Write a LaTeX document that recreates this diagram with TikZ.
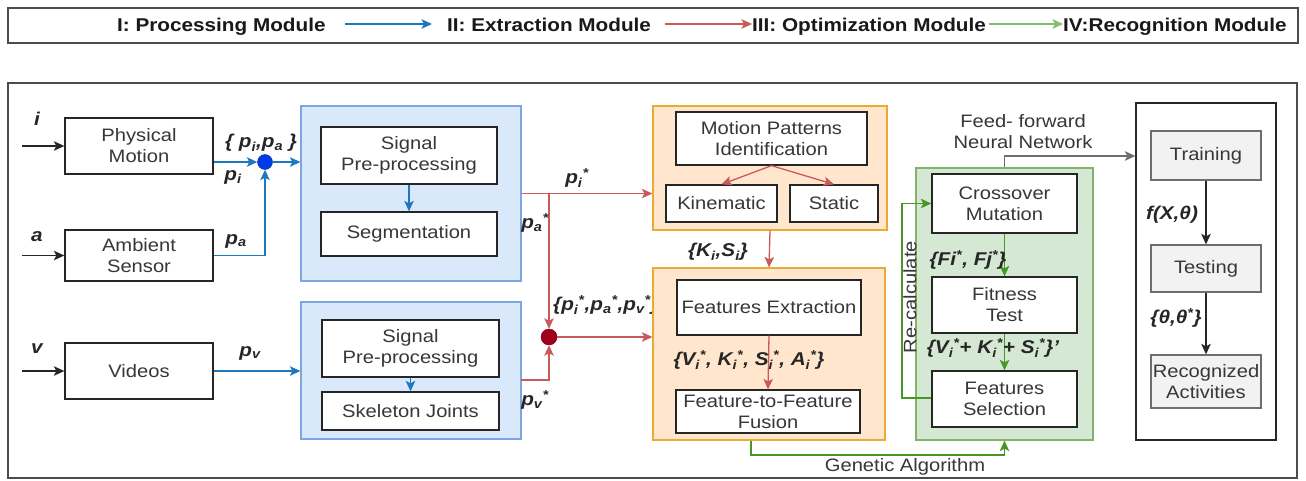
\documentclass[tikz,border=0pt]{standalone}
\usepackage{fontspec}
\setmainfont{Liberation Sans}[FakeStretch=1.12]
\usetikzlibrary{arrows.meta}
\definecolor{txtc}{RGB}{55,55,55}
\definecolor{lblue}{RGB}{30,120,190}
\definecolor{bfill}{RGB}{218,232,252}
\definecolor{bdraw}{RGB}{126,166,224}
\definecolor{ofill}{RGB}{255,230,204}
\definecolor{odraw}{RGB}{232,172,50}
\definecolor{gfill}{RGB}{213,232,212}
\definecolor{gdraw}{RGB}{130,179,102}
\definecolor{lred}{RGB}{200,90,90}
\definecolor{lgreen}{RGB}{70,150,40}
\definecolor{lgreenleg}{RGB}{130,190,110}
\definecolor{grfill}{RGB}{242,242,242}
\definecolor{grdraw}{RGB}{110,110,110}
\definecolor{cblue}{RGB}{0,60,230}
\definecolor{cred}{RGB}{160,0,30}
\tikzset{
  tip/.style={-{Stealth[length=10.5pt,width=9.5pt,inset=2.5pt]}},
  bx/.style={draw=black!85, line width=1.3pt, fill=white, text=txtc, align=center, inner sep=0pt,
    font=\fontsize{18}{21}\selectfont},
  gbx/.style={draw=grdraw, line width=1.3pt, fill=grfill, text=txtc, align=center, inner sep=0pt,
    font=\fontsize{18}{21}\selectfont},
  grpb/.style={draw=bdraw, line width=1.2pt, fill=bfill, inner sep=0pt},
  grpo/.style={draw=odraw, line width=1.2pt, fill=ofill, inner sep=0pt},
  grpg/.style={draw=gdraw, line width=1.2pt, fill=gfill, inner sep=0pt},
  lab/.style={font=\fontsize{18.5}{20}\selectfont\bfseries\itshape, text=black!85, inner sep=0pt},
  plain/.style={font=\fontsize{18}{21}\selectfont, text=txtc, inner sep=0pt, align=center},
  legt/.style={font=\fontsize{18.5}{21}\selectfont\bfseries, text=black!90, inner sep=0pt, anchor=base west},
  bl/.style={draw=lblue, line width=1.3pt},
  rl/.style={draw=lred, line width=1.3pt},
  gl/.style={draw=lgreen, line width=1.3pt},
  kl/.style={draw=black!85, line width=1.3pt},
}
\begin{document}
\begin{tikzpicture}[x=1pt,y=-1pt]
\useasboundingbox (0,0) rectangle (1306,480);
\fill[white] (0,0) rectangle (1306,480);
% legend
\node[draw=black!70, line width=1.5pt, minimum width=1290pt, minimum height=35pt, inner sep=0pt] (leg) at (653,25.5) {};
\node[legt] (l1) at (117,31) {I: Processing Module};
\node[legt] (l2) at (447,31) {II: Extraction Module};
\node[legt] (l3) at (752,31) {III: Optimization Module};
\node[legt] (l4) at (1063,31) {IV:Recognition Module};
\coordinate (a1s) at (345,24);
\coordinate (a1e) at (432,24);
\coordinate (a2s) at (665,24);
\coordinate (a2e) at (752,24);
\coordinate (a3s) at (989,24);
\coordinate (a3e) at (1063,24);
\draw[bl, tip] (a1s) -- (a1e);
\draw[rl, tip] (a2s) -- (a2e);
\draw[draw=lgreenleg, line width=1.3pt, tip] (a3s) -- (a3e);
% main frame
\node[draw=black!70, line width=1.5pt, minimum width=1289pt, minimum height=395pt, inner sep=0pt] (frame) at (652.5,280.5) {};

% left column
\node[bx, minimum width=148pt, minimum height=56pt] (pm) at (139,146) {Physical\\Motion};
\node[bx, minimum width=148pt, minimum height=51pt] (as) at (139,255.5) {Ambient\\Sensor};
\node[bx, minimum width=148pt, minimum height=56pt] (vd) at (139,371) {Videos};
\coordinate (ii) at (22,146);
\coordinate (ia) at (22,255.5);
\coordinate (iv) at (22,371);
\draw[kl, tip] (ii) -- (pm.west);
\draw[kl, tip] (ia) -- (as.west);
\draw[kl, tip] (iv) -- (vd.west);
\node[lab] (ti) at (37,119) {i};
\node[lab] (ta) at (37,237) {a};
\node[lab] (tv) at (37,349) {v};

% extraction groups
\node[grpb, minimum width=220pt, minimum height=175pt] (g1) at (411,193.5) {};
\node[bx, minimum width=176pt, minimum height=57pt] (sp1) at (409,155.5) {Signal\\Pre-processing};
\node[bx, minimum width=176pt, minimum height=44pt] (seg) at (409,234) {Segmentation};
\node[grpb, minimum width=220pt, minimum height=137pt] (g2) at (411,370.5) {};
\node[bx, minimum width=177pt, minimum height=57pt] (sp2) at (410.5,348.5) {Signal\\Pre-processing};
\node[bx, minimum width=177pt, minimum height=38pt] (sk) at (410.5,411) {Skeleton Joints};
\draw[bl, tip] (sp1.south) -- (seg.north);
\draw[bl, tip] (sp2.south) -- (sk.north);

% blue junction
\node[circle, fill=cblue, draw=cblue!70!black, minimum size=15pt, inner sep=0pt] (bc) at (265,162) {};
\draw[bl, tip] (pm.east |- bc) -- (bc.west);
\draw[bl, tip] (as.east) -| (bc.south);
\draw[bl, tip] (bc.east) -- (g1.west |- bc);
\draw[bl, tip] (vd.east) -- (g2.west |- vd.east);
\node[lab] (lpipa) at (261,143) {\{ p\textsubscript{i},p\textsubscript{a} \}};
\node[lab] (lpi) at (233,177) {p\textsubscript{i}};
\node[lab] (lpa) at (236,241) {p\textsubscript{a}};
\node[lab] (lpv) at (250,353) {p\textsubscript{v}};

% label partly covered by the orange group
\node[lab, anchor=west] (lall) at (553,305) {\{p\textsubscript{i}\textsuperscript{*},p\textsubscript{a}\textsuperscript{*},p\textsubscript{v}\textsuperscript{*}\}};

% orange groups
\node[grpo, minimum width=234pt, minimum height=124pt] (o1) at (770,168) {};
\node[bx, minimum width=191pt, minimum height=53pt] (mpi) at (771.5,138.5) {Motion Patterns\\Identification};
\node[bx, minimum width=111pt, minimum height=37pt] (kin) at (721.5,203.5) {Kinematic};
\node[bx, minimum width=88pt, minimum height=37pt] (sta) at (834,203.5) {Static};
\node[grpo, minimum width=232pt, minimum height=172pt] (o2) at (769,354) {};
\node[bx, minimum width=184pt, minimum height=55pt] (fe) at (769,307.5) {Features Extraction};
\node[bx, minimum width=184pt, minimum height=43pt] (fff) at (768,411.5) {Feature-to-Feature\\Fusion};
\draw[rl, tip] (mpi.south) -- (kin.north);
\draw[rl, tip] (mpi.south) -- (sta.north);
\draw[rl, tip] (o1.south) -- (o2.north);
\draw[rl, tip] (fe.south) -- (fff.north);
\node[lab] (lks) at (718,252) {\{K\textsubscript{i},S\textsubscript{i}\}};
\node[lab] (lvksa) at (749,360) {\{V\textsubscript{i}\textsuperscript{*}, K\textsubscript{i}\textsuperscript{*}, S\textsubscript{i}\textsuperscript{*}, A\textsubscript{i}\textsuperscript{*}\}};

\node[circle, fill=cred, draw=cred!70!black, minimum size=16pt, inner sep=0pt] (rc) at (549,337) {};
\coordinate (j1) at (549,193);
\coordinate (g2o) at (521,380);
\draw[rl, tip] (g1.east) -- (o1.west |- g1.east);
\draw[rl, tip] (j1) -- (rc.north);
\draw[rl, tip] (g2o) -| (rc.south);
\draw[rl, tip] (rc.east) -- (o2.west |- rc);
\node[lab] (lpis) at (577,178) {p\textsubscript{i}\textsuperscript{*}};
\node[lab] (lpas) at (535,223) {p\textsubscript{a}\textsuperscript{*}};
\node[lab] (lpvs) at (535,400) {p\textsubscript{v}\textsuperscript{*}};

% green group
\node[grpg, minimum width=177pt, minimum height=272pt] (gr) at (1004.5,304) {};
\node[bx, minimum width=145pt, minimum height=59pt] (cm) at (1004.5,203.5) {Crossover\\Mutation};
\node[bx, minimum width=145pt, minimum height=56pt] (ft) at (1004.5,305) {Fitness\\Test};
\node[bx, minimum width=145pt, minimum height=56pt] (fs) at (1004.5,399) {Features\\Selection};
\draw[gl, tip] (cm.south) -- (ft.north);
\draw[gl, tip] (ft.south) -- (fs.north);
\coordinate (rcl) at (902,398);
\draw[gl, tip] (fs.west |- rcl) -- (rcl) |- (cm.west);
\node[plain, rotate=90] (lrec) at (910,297) {Re-calculate};
\node[lab] (lff) at (968,260) {\{Fi\textsuperscript{*}, Fj\textsuperscript{*}\}};
\node[lab] (lvks) at (993,348) {\{V\textsubscript{i}\textsuperscript{*}+ K\textsubscript{i}\textsuperscript{*}+ S\textsubscript{i}\textsuperscript{*}\}'};
% genetic algorithm
\coordinate (ga1) at (751,455);
\draw[gl, tip] (o2.south -| ga1) -- (ga1) -| (gr.south);
\node[plain] (lga) at (905,467) {Genetic Algorithm};

% recognition
\node[draw=black!85, line width=1.3pt, minimum width=140pt, minimum height=337pt, inner sep=0pt] (rb) at (1206,271.5) {};
\node[gbx, minimum width=110pt, minimum height=49pt] (tr) at (1206,155.5) {Training};
\node[gbx, minimum width=110pt, minimum height=47pt] (ts) at (1206,268.5) {Testing};
\node[gbx, minimum width=110pt, minimum height=53pt] (ra) at (1206,381.5) {Recognized\\Activities};
\draw[kl, tip] (tr.south) -- (ts.north);
\draw[kl, tip] (ts.south) -- (ra.north);
\node[lab] (lfx) at (1172,215) {f(X,θ)};
\node[lab] (lth) at (1176,318) {\{θ,θ\textsuperscript{*}\}};
\coordinate (ffn) at (1004.5,156);
\draw[draw=grdraw, line width=1.3pt, tip] (gr.north) -- (ffn) -- (rb.west |- ffn);
\node[plain] (lffn) at (1023,132) {Feed- forward\\Neural Network};
\end{tikzpicture}
\end{document}
